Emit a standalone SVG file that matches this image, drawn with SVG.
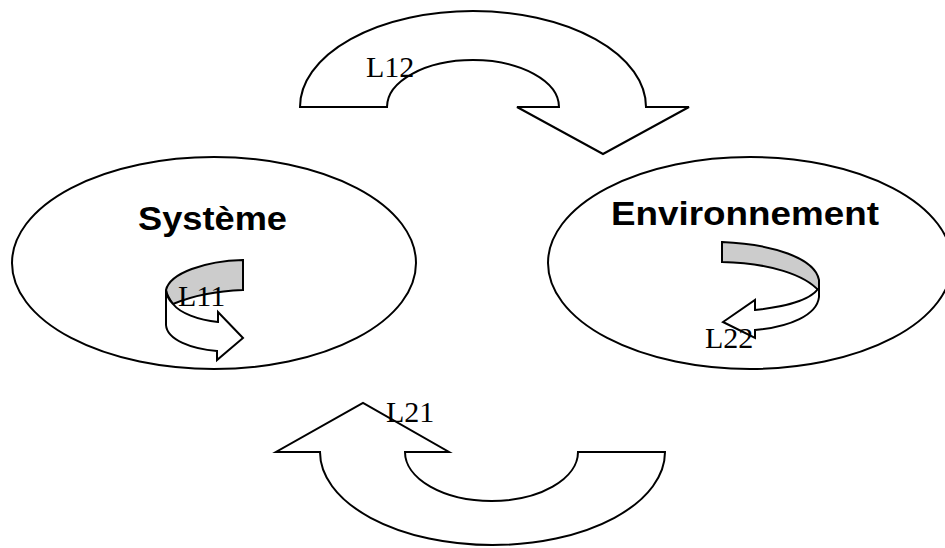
<svg xmlns="http://www.w3.org/2000/svg" width="945" height="548" viewBox="0 0 945 548">
<style>
.shape{fill:#fff;stroke:#000;stroke-width:2;stroke-linejoin:miter}
.gray{fill:#cccccc;stroke:#000;stroke-width:2}
.title{font-family:"Liberation Sans",Arial,sans-serif;font-weight:bold;font-size:33px;fill:#000}
.lbl{font-family:"Liberation Serif","Times New Roman",serif;font-size:30px;fill:#000}
</style>
<rect width="945" height="548" fill="#fff"/>
<g id="systeme">
<ellipse class="shape" cx="214" cy="263" rx="202" ry="106"/>
<text class="title" x="138" y="230" textLength="149" lengthAdjust="spacingAndGlyphs">Système</text>
</g>
<g id="environnement">
<ellipse class="shape" cx="750" cy="263" rx="202" ry="106"/>
<text class="title" x="611" y="225" textLength="268" lengthAdjust="spacingAndGlyphs">Environnement</text>
</g>
<g id="connectors">
<g id="L12">
<path class="shape" d="M300,107 A173,96 0 0 1 646,107 L689,107 L603,154 L517,107 L559,107 A86,47 0 0 0 387,107 Z"/>
<text class="lbl" x="366" y="77">L12</text>
</g>
<g id="L21">
<path class="shape" d="M320,452 A172.5,93 0 0 0 665,452 L578,452 A86.5,49 0 0 1 405,452 L449,452 L363,403 L276,452 Z"/>
<text class="lbl" x="386" y="422">L21</text>
</g>
<g id="L11">
<path class="gray" d="M243,260 C205,261 170,273 166,290 C167,296 170,300 173,304 C192,296 215,291 243,290 Z"/>
<path class="shape" d="M166,290 L166,325 C167,340 192,349 217,351 L217,360 L243,338 L218,312 L218,322 C198,320 180,313 173,304 C169,300 166,295 166,290 Z"/>
<text class="lbl" x="178" y="306">L11</text>
</g>
<g id="L22">
<path class="gray" d="M722,242 C772,244 815,258 819,280 L819,291 C805,275 770,263 722,262 Z"/>
<path class="shape" d="M818,289 C810,300 785,307 755,310 L755,300 L723,322 L755,338 L755,330 C790,327 817,315 819,297 L819,289 Z"/>
<text class="lbl" x="705" y="348">L22</text>
</g>
</g>
</svg>
